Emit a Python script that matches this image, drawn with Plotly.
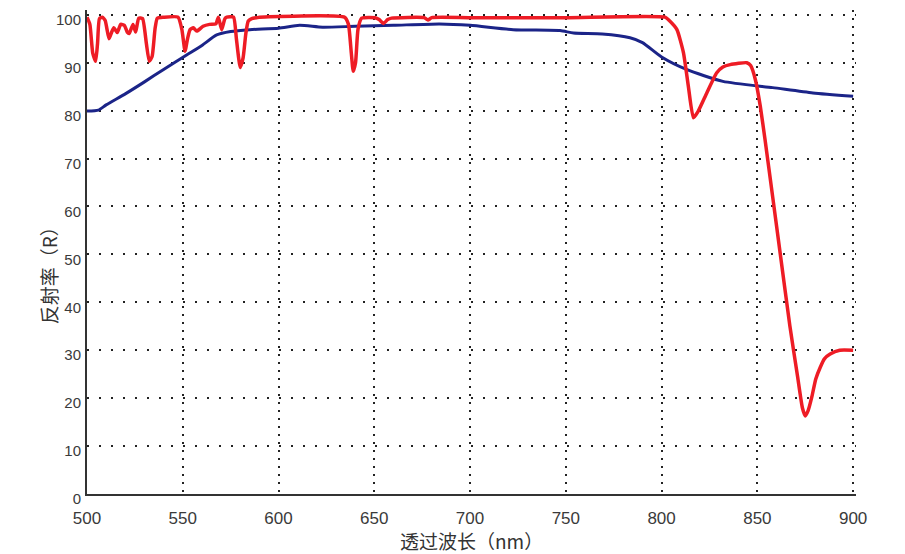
import plotly.graph_objects as go

# ---- data ----
red_x = [500, 501.5, 503, 504.5, 505.5, 506.5, 508, 509.5, 511.5, 513, 514, 515.8, 517.6,
         519.5, 521, 522, 524, 525.4, 527, 529, 531, 532.5, 534, 535.5, 536.7, 540, 547.5,
         549.5, 551.2, 552.5, 553.8, 555.5, 557.3, 560.6, 564, 567.3, 568.6, 570.3, 572,
         573, 576.5, 578, 580, 581.5, 583, 584.2, 586, 588.6, 590, 634.5, 636.5, 638, 639,
         640.2, 641.5, 643.4, 650.4, 652.5, 654.8, 657, 659, 676, 678, 680, 700, 750, 801.8,
         804, 808, 811.4, 814, 816.6, 819, 823.6, 828.8, 832, 835.8, 844.5, 846.5, 849,
         851.5, 854, 858, 862, 867, 871, 873.5, 875, 876.5, 878.4, 880.5, 882.8, 885, 888,
         893, 900]
red_y = [99.5, 98, 92, 90.3, 94, 99.2, 99.5, 98.8, 95, 96.5, 97.3, 96.3, 98,
         97.8, 96.4, 96.1, 98, 96.4, 99.3, 99.2, 94, 90.3, 91.3, 97, 99.3, 99.5, 99.5,
         97, 92.4, 95, 96.9, 97.3, 96.6, 97.6, 98, 98.1, 99.5, 96.9, 99.2,
         99.5, 99.5, 95, 89, 91, 96.3, 98.7, 99.2, 99.4, 99.5, 99.5, 98, 92, 88.2,
         90, 97, 99.3, 99.4, 99, 98.2, 99, 99.3, 99.4, 98.9, 99.4, 99.4, 99.4, 99.5,
         98.8, 96.9, 92.1, 85, 78.5, 79.8, 83.7, 87.9, 89.1, 89.6, 90, 89.4, 86.4,
         81, 74, 62, 50, 35, 24.5, 18, 16.3, 17.4, 20.2, 24, 26.4, 28.2, 29.2,
         30, 30]

blue_x = [500, 506, 510, 520, 530, 540, 552, 560, 567.7, 575, 585, 600, 611, 623, 640,
          660, 684, 700, 722.5, 747, 754, 769, 783.5, 790, 800, 813, 832, 858, 879, 900]
blue_y = [79.9, 80.1, 81.2, 83.5, 86, 88.6, 91.6, 93.6, 95.8, 96.5, 96.9, 97.2, 97.8,
          97.4, 97.6, 97.8, 98.1, 97.8, 96.9, 96.7, 96.2, 96, 95.2, 94.2, 91.2, 88.6,
          86.1, 84.8, 83.7, 83]

x_ticks = [500, 550, 600, 650, 700, 750, 800, 850, 900]
y_ticks = [0, 10, 20, 30, 40, 50, 60, 70, 80, 90, 100]

x_title = "透过波长（nm）"
y_title = "反射率（R）"

fig = go.Figure()
fig.add_trace(go.Scatter(x=blue_x, y=blue_y, mode="lines",
                         line=dict(color="#1B2488", width=3, shape="spline", smoothing=0.6),
                         showlegend=False))
fig.add_trace(go.Scatter(x=red_x, y=red_y, mode="lines",
                         line=dict(color="#EE1C25", width=3.5, shape="spline", smoothing=0.5),
                         showlegend=False))

tick_font = dict(family="Liberation Sans, Arial, sans-serif", color="#3a3a3a")
title_font = dict(size=19, family="Noto Sans CJK SC", color="#333")
fig.update_layout(
    width=905, height=554,
    margin=dict(l=87, r=49, t=10, b=60),
    paper_bgcolor="white", plot_bgcolor="white",
    xaxis=dict(range=[500, 901.5], tickvals=x_ticks, ticktext=[str(v) for v in x_ticks],
               showgrid=True, gridcolor="#222", gridwidth=2, griddash="2px,6px",
               showline=True, linecolor="#333", linewidth=2, zeroline=False,
               ticks="", ticklabelstandoff=8, automargin=False,
               tickfont=dict(size=17, **tick_font)),
    yaxis=dict(range=[0, 101], tickvals=y_ticks, ticktext=[str(v) for v in y_ticks],
               showgrid=True, gridcolor="#222", gridwidth=2, griddash="2px,10px",
               showline=True, linecolor="#333", linewidth=2, zeroline=False,
               ticks="", ticklabelstandoff=1, ticklabelshift=5, automargin=False,
               tickfont=dict(size=15, **tick_font)),
    annotations=[
        dict(text=y_title, textangle=-90, xref="paper", yref="paper",
             x=0, xshift=-39, y=0.46, xanchor="center", yanchor="middle",
             showarrow=False, font=title_font),
        dict(text=x_title, xref="paper", yref="paper",
             x=0.5, y=0, yshift=-46, xanchor="center", yanchor="middle",
             showarrow=False, font=title_font),
    ],
)

fig.write_html("out.html", config={"displayModeBar": False},
               post_script="document.body.style.margin='0';document.body.style.overflow='hidden';")
